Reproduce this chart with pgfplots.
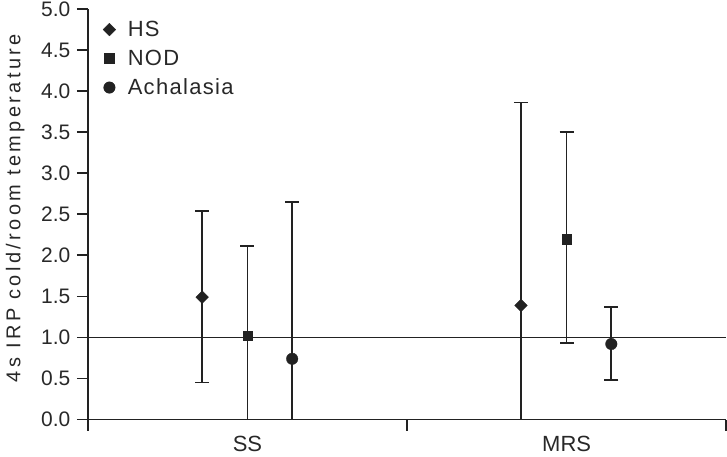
\documentclass[border=0pt]{standalone}
\usepackage{fontspec}
\setmainfont{Liberation Sans}
\newfontfamily\legfont[LetterSpace=6]{Liberation Sans}
\newfontfamily\labfont[LetterSpace=17]{Liberation Sans}
\usepackage{pgfplots}
\usepackage{pgfplotstable}
\pgfplotsset{compat=1.18}
\definecolor{ink}{RGB}{34,34,34}
\definecolor{txt}{RGB}{40,40,40}

\pgfplotstableread{
x y ep em
0.358 1.49 1.05 1.04
1.357 1.39 2.47 1.39
}\hs
\pgfplotstableread{
x y ep em
0.500 1.02 1.09 1.02
1.500 2.20 1.30 1.27
}\nod
\pgfplotstableread{
x y ep em
0.640 0.74 1.91 0.74
1.640 0.92 0.45 0.44
}\ach

\begin{document}
\begin{tikzpicture}
\begin{axis}[
  scale only axis, width=639pt, height=411pt,
  xmin=0, xmax=2, ymin=0, ymax=5,
  clip=false,
  axis x line*=bottom, axis y line*=left,
  axis line style={ink, line width=1.7pt},
  every tick/.style={ink, line width=1.7pt},
  tick align=outside,
  major tick length=11pt,
  xtick={0,1,2}, xticklabels={,,},
  extra x ticks={0.5,1.5}, extra x tick labels={SS,MRS},
  extra x tick style={tick style={draw=none}},
  ytick={0,0.5,1,1.5,2,2.5,3,3.5,4,4.5,5},
  /pgf/number format/assume math mode=true,
  yticklabel style={/pgf/number format/fixed,/pgf/number format/fixed zerofill,/pgf/number format/precision=1, xshift=-3pt},
  tick label style={font=\fontsize{21}{25}\selectfont, text=txt},
  xticklabel style={font=\fontsize{22}{26}\selectfont, text=txt, yshift=-2pt},
  ylabel={4s IRP cold/room temperature},
  ylabel style={font=\labfont\fontsize{20}{24}\selectfont, text=txt, at={(axis description cs:-0.114,0.515)}, anchor=center},
  legend style={draw=none, fill=none, at={(axis description cs:0,1)}, anchor=north west, xshift=12pt, yshift=-8pt,
    font=\legfont\fontsize{22}{26}\selectfont, text=txt, legend cell align=left, row sep=8pt, column sep=10pt},
]
\addplot[ink, line width=1.7pt, forget plot] coordinates {(0,1) (2,1)};
\addplot[ink, only marks, mark=square*, mark size=4.5pt, mark options={rotate=45, fill=ink, draw=ink, line width=0.3pt},
  error bars/.cd, y dir=both, y explicit, error bar style={line width=1.7pt, ink},
  error mark options={rotate=90, mark size=7pt, line width=1.7pt, ink}]
  table[x=x, y=y, y error plus=ep, y error minus=em]{\hs};
\addplot[ink, only marks, mark=square*, mark size=4.8pt, mark options={fill=ink, draw=ink, line width=0.3pt},
  error bars/.cd, y dir=both, y explicit, error bar style={line width=1.7pt, ink},
  error mark options={rotate=90, mark size=7pt, line width=1.7pt, ink}]
  table[x=x, y=y, y error plus=ep, y error minus=em]{\nod};
\addplot[ink, only marks, mark=*, mark size=5.8pt, mark options={fill=ink, draw=ink, line width=0.3pt},
  error bars/.cd, y dir=both, y explicit, error bar style={line width=1.7pt, ink},
  error mark options={rotate=90, mark size=7pt, line width=1.7pt, ink}]
  table[x=x, y=y, y error plus=ep, y error minus=em]{\ach};
\legend{HS,NOD,Achalasia}
\coordinate (sw) at (rel axis cs:0,0);
\coordinate (ne) at (rel axis cs:1,1);
\end{axis}
\pgfresetboundingbox
\path ([shift={(-88pt,-37pt)}]sw) rectangle ([shift={(0.8pt,9pt)}]ne);
\end{tikzpicture}
\end{document}
